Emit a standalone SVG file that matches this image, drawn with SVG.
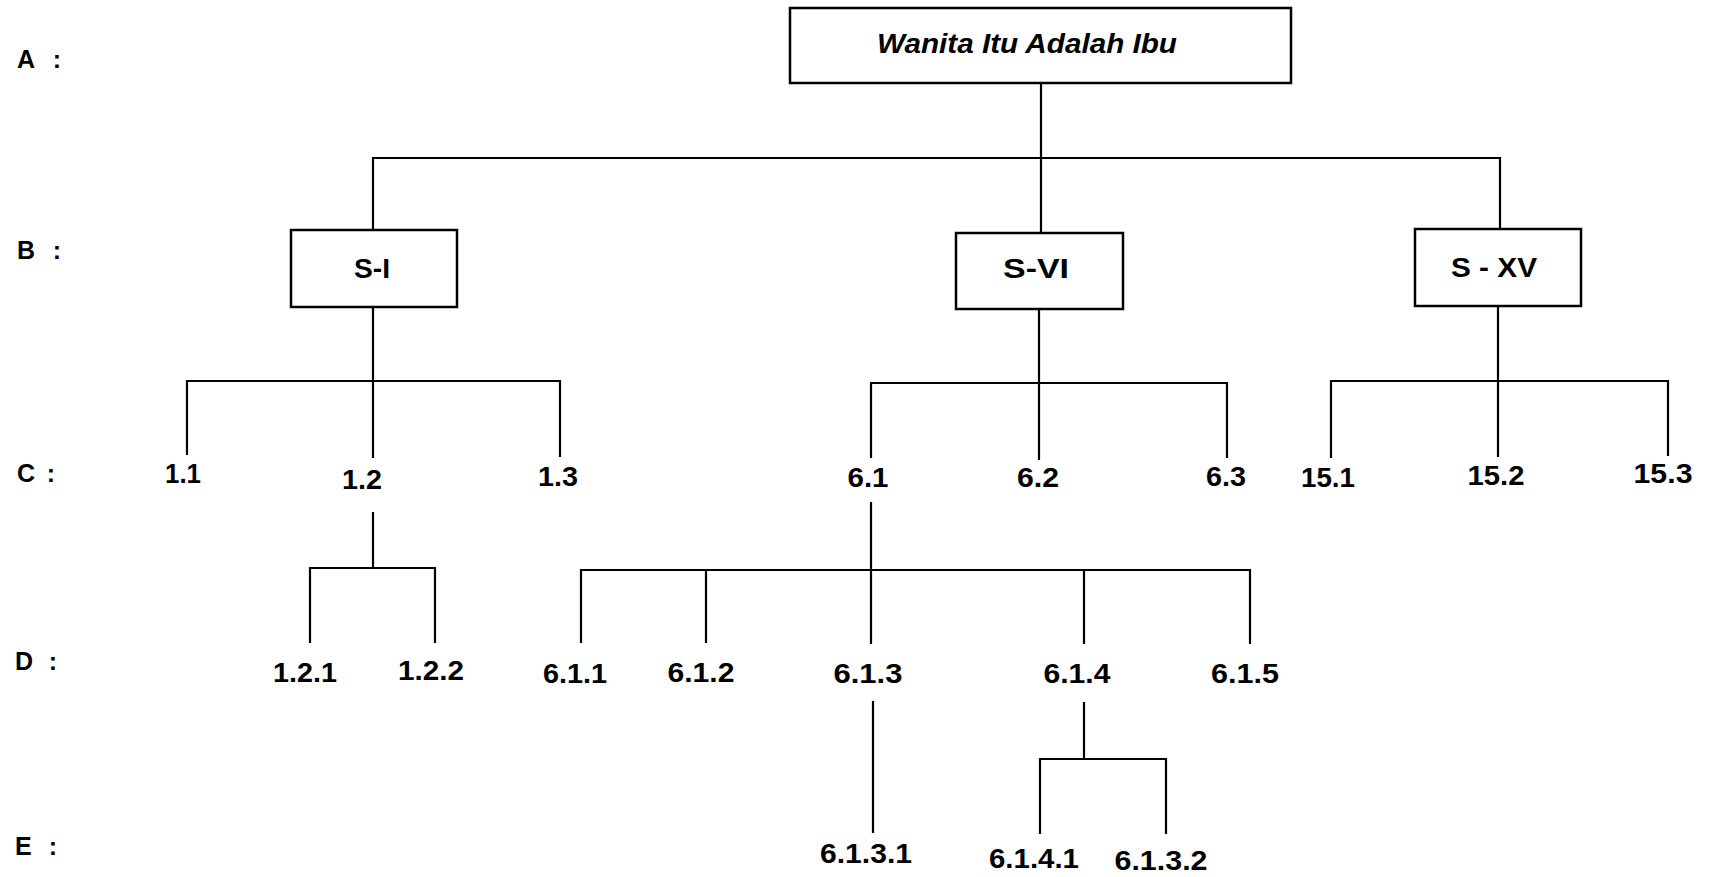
<svg xmlns="http://www.w3.org/2000/svg" width="1711" height="877" viewBox="0 0 1711 877">
<style>
.box{fill:#fff;stroke:#000;stroke-width:2.5}
.ln{fill:none;stroke:#000;stroke-width:2.2;stroke-linecap:square}
.lvl{font-family:"Liberation Sans",Arial,sans-serif;font-size:25px;font-weight:bold;fill:#000}
.lbl{font-family:"Liberation Sans",Arial,sans-serif;font-size:27px;font-weight:bold;fill:#000;text-anchor:middle}
.bx{font-family:"Liberation Sans",Arial,sans-serif;font-size:27px;font-weight:bold;fill:#000;text-anchor:middle}
.ttl{font-family:"Liberation Sans",Arial,sans-serif;font-size:28px;font-weight:bold;font-style:italic;fill:#000;text-anchor:middle}
</style>
<rect width="1711" height="877" fill="#fff"/>
<g id="levels">
<text class="lvl" x="17" y="68" textLength="44">A :</text>
<text class="lvl" x="17" y="259" textLength="44">B :</text>
<text class="lvl" x="17" y="482" textLength="38">C :</text>
<text class="lvl" x="15" y="670" textLength="42">D :</text>
<text class="lvl" x="15" y="855" textLength="42">E :</text>
</g>
<g id="connectors">
<path class="ln" d="M1041,83 V233 M373,158 H1500 M373,158 V230 M1500,158 V229"/>
<path class="ln" d="M373,307 V457 M187,381 H560 M187,381 V454 M560,381 V456"/>
<path class="ln" d="M373,513 V568 M310,568 H435 M310,568 V642 M435,568 V642"/>
<path class="ln" d="M1039,309 V459 M871,383 H1227 M871,383 V457 M1227,383 V457"/>
<path class="ln" d="M1498,306 V456 M1331,381 H1668 M1331,381 V457 M1668,381 V455"/>
<path class="ln" d="M871,503 V643 M581,570 H1250 M581,570 V642 M706,570 V642 M1084,570 V643 M1250,570 V643"/>
<path class="ln" d="M873,702 V832"/>
<path class="ln" d="M1084,703 V759 M1040,759 H1166 M1040,759 V833 M1166,759 V833"/>
</g>
<g id="root">
<rect class="box" x="790" y="8" width="501" height="75"/>
<text class="ttl" x="1027" y="53" textLength="300" lengthAdjust="spacingAndGlyphs">Wanita Itu Adalah Ibu</text>
</g>
<g id="s1">
<rect class="box" x="291" y="230" width="166" height="77"/>
<text class="bx" x="372" y="278" textLength="36" lengthAdjust="spacingAndGlyphs">S-I</text>
</g>
<g id="s6">
<rect class="box" x="956" y="233" width="167" height="76"/>
<text class="bx" x="1036" y="278" textLength="66" lengthAdjust="spacingAndGlyphs">S-VI</text>
</g>
<g id="s15">
<rect class="box" x="1415" y="229" width="166" height="77"/>
<text class="bx" x="1494" y="277" textLength="86" lengthAdjust="spacingAndGlyphs">S - XV</text>
</g>
<g id="n1_1"><text class="lbl" x="183" y="483" textLength="36" lengthAdjust="spacingAndGlyphs">1.1</text></g>
<g id="n1_2"><text class="lbl" x="362" y="489" textLength="40" lengthAdjust="spacingAndGlyphs">1.2</text></g>
<g id="n1_3"><text class="lbl" x="558" y="486" textLength="40" lengthAdjust="spacingAndGlyphs">1.3</text></g>
<g id="n6_1"><text class="lbl" x="868" y="487" textLength="41" lengthAdjust="spacingAndGlyphs">6.1</text></g>
<g id="n6_2"><text class="lbl" x="1038" y="487" textLength="42" lengthAdjust="spacingAndGlyphs">6.2</text></g>
<g id="n6_3"><text class="lbl" x="1226" y="486" textLength="40" lengthAdjust="spacingAndGlyphs">6.3</text></g>
<g id="n15_1"><text class="lbl" x="1328" y="487" textLength="54" lengthAdjust="spacingAndGlyphs">15.1</text></g>
<g id="n15_2"><text class="lbl" x="1496" y="485" textLength="57" lengthAdjust="spacingAndGlyphs">15.2</text></g>
<g id="n15_3"><text class="lbl" x="1663" y="483" textLength="59" lengthAdjust="spacingAndGlyphs">15.3</text></g>
<g id="n1_2_1"><text class="lbl" x="305" y="682" textLength="64" lengthAdjust="spacingAndGlyphs">1.2.1</text></g>
<g id="n1_2_2"><text class="lbl" x="431" y="680" textLength="66" lengthAdjust="spacingAndGlyphs">1.2.2</text></g>
<g id="n6_1_1"><text class="lbl" x="575" y="683" textLength="64" lengthAdjust="spacingAndGlyphs">6.1.1</text></g>
<g id="n6_1_2"><text class="lbl" x="701" y="682" textLength="67" lengthAdjust="spacingAndGlyphs">6.1.2</text></g>
<g id="n6_1_3"><text class="lbl" x="868" y="683" textLength="69" lengthAdjust="spacingAndGlyphs">6.1.3</text></g>
<g id="n6_1_4"><text class="lbl" x="1077" y="683" textLength="67" lengthAdjust="spacingAndGlyphs">6.1.4</text></g>
<g id="n6_1_5"><text class="lbl" x="1245" y="683" textLength="68" lengthAdjust="spacingAndGlyphs">6.1.5</text></g>
<g id="n6_1_3_1"><text class="lbl" x="866" y="863" textLength="92" lengthAdjust="spacingAndGlyphs">6.1.3.1</text></g>
<g id="n6_1_4_1"><text class="lbl" x="1034" y="868" textLength="90" lengthAdjust="spacingAndGlyphs">6.1.4.1</text></g>
<g id="n6_1_3_2"><text class="lbl" x="1161" y="870" textLength="93" lengthAdjust="spacingAndGlyphs">6.1.3.2</text></g>
</svg>
